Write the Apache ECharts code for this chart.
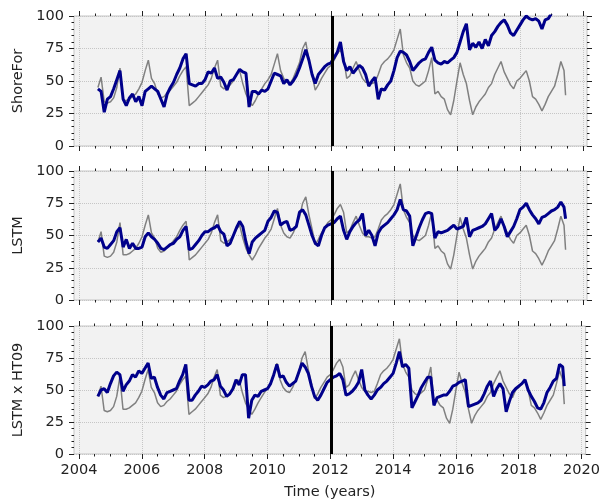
<!DOCTYPE html>
<html>
<head>
<meta charset="utf-8">
<script src="https://cdn.jsdelivr.net/npm/echarts@6/dist/echarts.min.js"></script>
<style>
    html, body { margin: 0; padding: 0; background: #fff; }
    #container { width: 603px; height: 501px; }
</style>
</head>
<body>
<div id="container"></div>
<script>
// sample times (decimal years)
var years = [
    2004.6, 2004.7, 2004.8, 2004.9,
    2005.0, 2005.1, 2005.2, 2005.3, 2005.4, 2005.5, 2005.6, 2005.7, 2005.8, 2005.9,
    2006.0, 2006.1, 2006.2, 2006.3, 2006.4, 2006.5, 2006.6, 2006.7, 2006.8, 2006.9,
    2007.0, 2007.1, 2007.2, 2007.3, 2007.4, 2007.5, 2007.6, 2007.7, 2007.8, 2007.9,
    2008.0, 2008.1, 2008.2, 2008.3, 2008.4, 2008.5, 2008.6, 2008.7, 2008.8, 2008.9,
    2009.0, 2009.1, 2009.2, 2009.3, 2009.4, 2009.5, 2009.6, 2009.7, 2009.8, 2009.9,
    2010.0, 2010.1, 2010.2, 2010.3, 2010.4, 2010.5, 2010.6, 2010.7, 2010.8, 2010.9,
    2011.0, 2011.1, 2011.2, 2011.3, 2011.4, 2011.5, 2011.6, 2011.7, 2011.8, 2011.9,
    2012.0, 2012.1, 2012.2, 2012.3, 2012.4, 2012.5, 2012.6, 2012.7, 2012.8, 2012.9,
    2013.0, 2013.1, 2013.2, 2013.3, 2013.4, 2013.5, 2013.6, 2013.7, 2013.8, 2013.9,
    2014.0, 2014.1, 2014.2, 2014.3, 2014.4, 2014.5, 2014.6, 2014.7, 2014.8, 2014.9,
    2015.0, 2015.1, 2015.2, 2015.3, 2015.4, 2015.5, 2015.6, 2015.7, 2015.8, 2015.9,
    2016.0, 2016.1, 2016.2, 2016.3, 2016.4, 2016.5, 2016.6, 2016.7, 2016.8, 2016.9,
    2017.0, 2017.1, 2017.2, 2017.3, 2017.4, 2017.5, 2017.6, 2017.7, 2017.8, 2017.9,
    2018.0, 2018.1, 2018.2, 2018.3, 2018.4, 2018.5, 2018.6, 2018.7, 2018.8, 2018.9,
    2019.0, 2019.1, 2019.2, 2019.3, 2019.4, 2019.45
];

// observed (grey, same in every panel)
var observed = [
    45, 53, 34, 33,
    34, 37, 45, 60, 35, 35, 36, 38, 40, 44,
    49, 58, 66, 52, 48, 40, 37, 38, 41, 43,
    46, 49, 54, 58, 61, 31, 33, 35, 38, 41,
    44, 47, 52, 60, 66, 46, 44, 45, 47, 50,
    55, 58, 48, 40, 35, 31, 35, 40, 44, 48,
    51, 55, 63, 71, 58, 52, 49, 48, 52, 58,
    64, 75, 80, 66, 55, 43, 47, 52, 56, 60,
    62, 66, 71, 74, 68, 52, 54, 60, 65, 58,
    52, 49, 49, 48, 49, 55, 62, 65, 67, 70,
    74, 82, 90, 70, 64, 60, 50, 47, 46, 48,
    50, 58, 68, 40, 42, 38, 36, 28, 24, 35,
    50, 64, 55, 48, 35, 24, 30, 34, 37, 40,
    45, 48, 55, 60, 65, 57, 52, 47, 44, 50,
    52, 55, 58, 50, 38, 36, 32, 27, 32, 38,
    42, 46, 55, 65, 58, 39
];

var shoreFor = [
    44, 42, 26, 36,
    38, 44, 51, 58, 36, 31, 37, 40, 34, 38,
    31, 42, 44, 46, 44, 42, 36, 30, 40, 45,
    49, 55, 60, 67, 71, 48, 47, 46, 48, 48,
    51, 57, 56, 60, 52, 53, 49, 43, 50, 51,
    55, 59, 57, 56, 30, 42, 42, 40, 43, 42,
    44, 50, 56, 55, 54, 48, 51, 47, 50, 54,
    60, 67, 74, 66, 55, 48, 55, 58, 61, 63,
    64, 68, 72, 80, 65, 58, 61, 56, 59, 62,
    60, 55, 46, 50, 53, 36, 44, 43, 47, 50,
    58, 68, 73, 72, 70, 65, 58, 61, 64, 66,
    67, 72, 76, 66, 64, 63, 65, 64, 66, 68,
    72, 80, 88, 94, 74, 79, 76, 80, 75, 82,
    77, 85, 88, 92, 95, 97, 93, 87, 85, 89,
    93, 97, 100, 98, 97, 98, 96, 90, 97, 98,
    102, 104, 106, 105, 106, 104
];

var lstm = [
    45, 48, 41, 40,
    43, 46, 53, 56, 41, 47, 40, 44, 40, 40,
    41, 49, 52, 49, 47, 44, 40, 39, 41, 43,
    44, 47, 49, 54, 57, 39, 40, 43, 46, 50,
    53, 53, 55, 56, 58, 53, 51, 42, 44, 50,
    56, 61, 57, 45, 36, 45, 48, 50, 52, 54,
    61, 64, 69, 68, 58, 60, 61, 54, 55, 57,
    68, 70, 66, 58, 50, 44, 42, 50, 56, 58,
    59, 60, 63, 65, 54, 47, 53, 57, 60, 62,
    67, 50, 54, 50, 42, 52, 56, 58, 60, 63,
    66, 70, 78, 70, 69, 65, 42, 49, 56, 62,
    67, 68, 67, 48, 53, 52, 53, 54, 56, 58,
    55, 56, 57, 64, 49, 54, 55, 56, 57, 59,
    63, 67, 54, 57, 63, 57, 49, 53, 57, 63,
    70, 72, 75, 70, 66, 63, 59, 64, 65, 67,
    69, 70, 72, 76, 72, 63
];

var lstmHt09 = [
    45, 50, 51, 48,
    55, 61, 64, 62, 49, 54, 57, 62, 60, 65,
    63, 67, 71, 59, 60, 52, 46, 43, 48, 49,
    50, 51, 57, 62, 70, 42, 42, 46, 49, 53,
    52, 54, 57, 58, 62, 53, 50, 45, 47, 51,
    58, 54, 62, 62, 28, 42, 46, 45, 49, 50,
    51, 55, 62, 70, 60, 61, 56, 53, 55, 57,
    64, 71, 68, 63, 53, 45, 42, 46, 51, 56,
    58, 60, 61, 63, 58, 46, 47, 49, 52, 56,
    66, 50, 46, 43, 46, 50, 52, 55, 57, 60,
    63, 71, 80, 68, 70, 67, 36, 41, 46, 52,
    56, 60, 60, 38, 44, 45, 46, 46, 49, 53,
    54, 56, 57, 58, 37, 38, 39, 40, 42, 47,
    53, 57, 45, 51, 55, 51, 33, 41, 48, 51,
    53, 55, 58, 50, 45, 41, 36, 35, 40, 48,
    52, 57, 59, 70, 68, 53
];

var panelNames = ['ShoreFor', 'LSTM', 'LSTM x HT09'];
var panelModels = [shoreFor, lstm, lstmHt09];
var yearTicks = [2004, 2006, 2008, 2010, 2012, 2014, 2016, 2018, 2020];
var halfYearTicks = [2004.5, 2005, 2005.5, 2006.5, 2007, 2007.5, 2008.5, 2009, 2009.5,
    2010.5, 2011, 2011.5, 2012.5, 2013, 2013.5, 2014.5, 2015, 2015.5,
    2016.5, 2017, 2017.5, 2018.5, 2019, 2019.5];
var splitYear = 2012.04;

var myChart = echarts.init(document.getElementById('container'));

var font = 'DejaVu Sans';
var fontSize = 14.5;
var tickColor = '#222';
var frameColor = '#c4c4c4';
var grids = [
    {left: 74, right: 16, top: 16, height: 130},
    {left: 74, right: 16, top: 171, height: 129},
    {left: 74, right: 16, top: 326, height: 128}
];

function pairs(vals) {
    return years.map(function (t, k) { return [t, vals[k]]; });
}

var grid = [], xAxis = [], yAxis = [], series = [];
grids.forEach(function (g, i) {
    grid.push({
        left: g.left, right: g.right, top: g.top, height: g.height,
        show: true, backgroundColor: '#f2f2f2',
        borderColor: frameColor, borderWidth: 1
    });
    var last = i === 2;
    var baseX = {
        gridIndex: i, type: 'value', min: 2003.84, max: 2020.13,
        axisLine: {show: false, onZero: false},
        splitLine: {show: false},
        axisLabel: {show: false}
    };
    // bottom major
    xAxis.push(Object.assign({}, baseX, {
        position: 'bottom',
        axisTick: {show: true, customValues: yearTicks, length: 5, lineStyle: {color: tickColor, width: 1}},
        axisLabel: {
            show: last, customValues: yearTicks, fontSize: fontSize, fontFamily: font, color: tickColor, margin: 9,
            formatter: function (v) { return String(Math.round(v)); }
        },
        splitLine: {show: true, lineStyle: {type: 'dotted', color: '#c6c6c6', width: 1}},
        name: last ? 'Time (years)' : '',
        nameLocation: 'middle', nameGap: 31,
        nameTextStyle: {fontSize: fontSize, fontFamily: font, color: tickColor}
    }));
    // bottom minor
    xAxis.push(Object.assign({}, baseX, {
        position: 'bottom',
        axisTick: {show: true, customValues: halfYearTicks, length: 2.5, lineStyle: {color: tickColor, width: 1}}
    }));
    // top major
    xAxis.push(Object.assign({}, baseX, {
        position: 'top',
        axisTick: {show: true, customValues: yearTicks, length: 5, lineStyle: {color: tickColor, width: 1}}
    }));
    // top minor
    xAxis.push(Object.assign({}, baseX, {
        position: 'top',
        axisTick: {show: true, customValues: halfYearTicks, length: 2.5, lineStyle: {color: tickColor, width: 1}}
    }));

    var baseY = {
        gridIndex: i, type: 'value', min: 0, max: 100, interval: 25,
        axisLine: {show: false, onZero: false},
        axisTick: {show: true, length: 5, lineStyle: {color: tickColor, width: 1}},
        minorTick: {show: true, splitNumber: 5, length: 2.5, lineStyle: {color: tickColor, width: 1}}
    };
    yAxis.push(Object.assign({}, baseY, {
        position: 'left',
        axisLabel: {fontSize: fontSize, fontFamily: font, color: tickColor, margin: 10},
        splitLine: {show: true, lineStyle: {type: 'dotted', color: '#c6c6c6', width: 1}},
        name: panelNames[i], nameLocation: 'middle', nameGap: 47,
        nameTextStyle: {fontSize: fontSize, fontFamily: font, color: tickColor}
    }));
    yAxis.push(Object.assign({}, baseY, {
        position: 'right',
        axisLabel: {show: false},
        splitLine: {show: false}
    }));

    series.push({
        type: 'line', xAxisIndex: i * 4, yAxisIndex: i * 2,
        data: pairs(observed), showSymbol: false, symbol: 'none',
        lineStyle: {color: '#808080', width: 1.5}, z: 2
    });
    series.push({
        type: 'line', xAxisIndex: i * 4, yAxisIndex: i * 2,
        data: pairs(panelModels[i]), showSymbol: false, symbol: 'none',
        lineStyle: {color: '#00008b', width: 3}, z: 3,
        markLine: {
            silent: true, symbol: ['none', 'none'], animation: false,
            label: {show: false},
            lineStyle: {color: '#000', width: 3, type: 'solid'},
            data: [{xAxis: splitYear}]
        }
    });
});

var option = {
    animation: false,
    backgroundColor: '#fff',
    grid: grid,
    xAxis: xAxis,
    yAxis: yAxis,
    series: series
};
myChart.setOption(option);
</script>
</body>
</html>
